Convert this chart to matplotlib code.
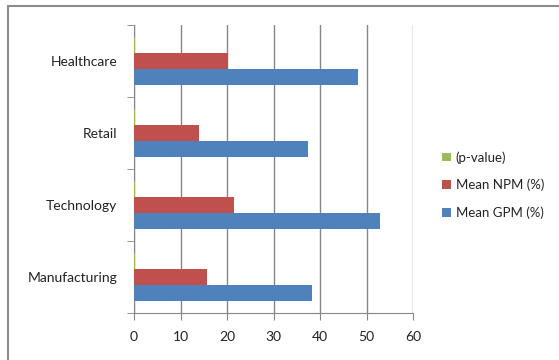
import numpy as np
import matplotlib.pyplot as plt
from matplotlib.patches import Rectangle

plt.rcParams['font.family'] = ['Lato', 'DejaVu Sans']

categories = ['Manufacturing', 'Technology', 'Retail', 'Healthcare']
gpm = [38.3, 52.9, 37.5, 48.1]
npm = [15.7, 21.4, 13.9, 20.2]
pval = [0.3, 0.3, 0.3, 0.3]
series_names = ['Mean GPM (%)', 'Mean NPM (%)', '(p-value)']
colors = ['#4F81BD', '#C0504D', '#9BBB59']
xticks = [0, 10, 20, 30, 40, 50, 60]

fig = plt.figure(figsize=(5.59, 3.6), dpi=100)
ax = fig.add_axes([134/559, 1 - 313/360, 279/559, 288/360])

# grey frame around chart area (only left/top visible in the crop)
fig.patches.append(Rectangle((8/559, -0.2), 1.2, 1 - 6/360 + 0.2,
                             transform=fig.transFigure, fill=False,
                             edgecolor='#8c8c8c', linewidth=1.5))

y = np.arange(len(categories))
h = 0.222
handles = []
for i, (vals, name, c) in enumerate(zip([gpm, npm, pval], series_names, colors)):
    b = ax.barh(y + (i - 1) * h, vals, height=h, color=c, label=name, zorder=3)
    handles.append(b)

ax.set_xlim(0, 60)
ax.set_ylim(-0.5, len(categories) - 0.5)
ax.set_xticks(xticks)
ax.set_xticklabels([str(t) for t in xticks])
ax.set_yticks(y)
ax.set_yticklabels(categories)
ax.set_yticks(np.arange(-0.5, len(categories)), minor=True)
ax.tick_params(axis='y', which='major', length=0, pad=12)
ax.tick_params(axis='y', which='minor', length=5, color='#868686')
ax.tick_params(axis='x', length=5, color='#868686', pad=8)
ax.tick_params(labelsize=10, labelcolor='#222222')

ax.grid(axis='x', color='#868686', linewidth=1, zorder=0)
for s in ['top', 'right']:
    ax.spines[s].set_visible(False)
for s in ['left', 'bottom']:
    ax.spines[s].set_color('#868686')

ax.legend(handles[::-1], series_names[::-1], loc='center left',
          bbox_to_anchor=(438/559, 1 - 185/360), bbox_transform=fig.transFigure,
          frameon=False, fontsize=9.5, handlelength=0.65, handleheight=0.65,
          handletextpad=0.4, labelspacing=1.15, borderaxespad=0, borderpad=0.3,
          labelcolor='#222222')

fig.savefig('out.png', dpi=100)
